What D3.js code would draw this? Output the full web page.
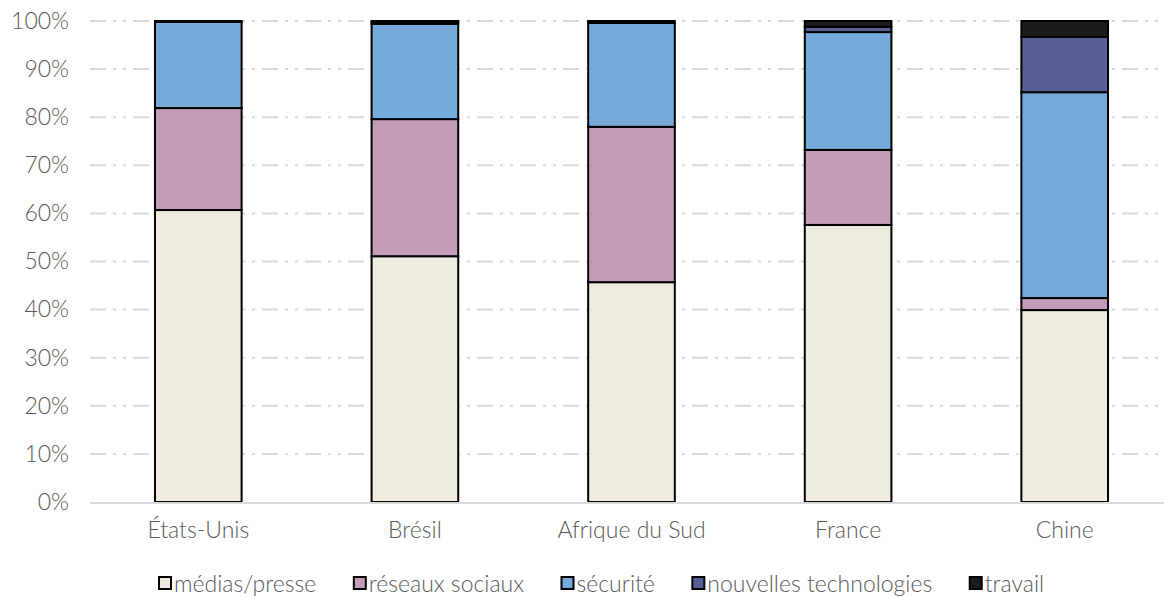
<!DOCTYPE html>
<html>
<head>
<meta charset="utf-8">
<script src="https://cdn.jsdelivr.net/npm/d3@7"></script>
<style>
  body { margin: 0; background: #fff; }
  text { font-family: Lato, "Open Sans", sans-serif; font-weight: 300; fill: #595959; }
</style>
</head>
<body>
<div id="chart"></div>
<script>
// pays
var countries = ["États-Unis", "Brésil", "Afrique du Sud", "France", "Chine"];
// séries (en %)
var seriesNames = ["médias/presse", "réseaux sociaux", "sécurité", "nouvelles technologies", "travail"];
var medias = [60.7, 51.1, 45.7, 57.6, 39.9];
var reseaux = [21.2, 28.5, 32.3, 15.6, 2.5];
var securite = [17.9, 19.8, 21.6, 24.5, 42.8];
var nouvelles = [0.0, 0.4, 0.0, 1.1, 11.5];
var travail = [0.2, 0.2, 0.4, 1.2, 3.3];
var yTicks = [0, 10, 20, 30, 40, 50, 60, 70, 80, 90, 100];

var colors = ["#EFEBE0", "#C49CB8", "#75AADA", "#575E96", "#1C1C1C"];

var width = 1164, height = 597;
var margin = { top: 21, right: -9, bottom: 95, left: 90 };
var innerW = width - margin.left - margin.right;
var innerH = height - margin.top - margin.bottom;

var data = countries.map(function (c, i) {
    return { country: c, "médias/presse": medias[i], "réseaux sociaux": reseaux[i], "sécurité": securite[i],
             "nouvelles technologies": nouvelles[i], "travail": travail[i] };
});

var stack = d3.stack().keys(seriesNames);
var stacked = stack(data);

var x = d3.scaleBand()
    .domain(countries)
    .range([0, innerW])
    .paddingInner(0.6)
    .paddingOuter(0.3);

var y = d3.scaleLinear()
    .domain([0, 100])
    .range([innerH, 0]);

var color = d3.scaleOrdinal().domain(seriesNames).range(colors);

var svg = d3.select("#chart")
    .append("svg")
    .attr("width", width)
    .attr("height", height)
    .append("g")
    .attr("transform", "translate(" + margin.left + "," + margin.top + ")");

// grille
svg.append("g")
    .selectAll("line")
    .data(yTicks.filter(function (d) { return d > 0; }))
    .enter()
    .append("line")
    .attr("x1", 0)
    .attr("x2", width - margin.left)
    .attr("y1", function (d) { return y(d); })
    .attr("y2", function (d) { return y(d); })
    .attr("stroke", "#d9d9d9")
    .attr("stroke-width", 2)
    .attr("stroke-dasharray", "16,7,3,7,3,7");

// axe Y
var yAxis = d3.axisLeft(y).tickValues(yTicks).tickSize(0).tickPadding(21)
    .tickFormat(function (d) { return d + "%"; });
svg.append("g")
    .attr("class", "y axis")
    .call(yAxis)
    .call(function (g) { g.select(".domain").remove(); })
    .selectAll("text")
    .style("font-size", "23px")
    .style("font-family", "Lato, sans-serif")
    .attr("fill", "#595959");

// barres
svg.append("g")
    .selectAll("g")
    .data(stacked)
    .enter()
    .append("g")
    .attr("fill", function (d) { return color(d.key); })
    .selectAll("rect")
    .data(function (d) { return d; })
    .enter()
    .append("rect")
    .attr("x", function (d) { return x(d.data.country); })
    .attr("y", function (d) { return y(d[1]); })
    .attr("width", x.bandwidth())
    .attr("height", function (d) { return y(d[0]) - y(d[1]); })
    .attr("stroke", "#000")
    .attr("stroke-width", 2);

// ligne de base
svg.append("line")
    .attr("x1", 0)
    .attr("x2", width - margin.left)
    .attr("y1", innerH + 1)
    .attr("y2", innerH + 1)
    .attr("stroke", "#d9d9d9")
    .attr("stroke-width", 2);

// axe X
var xAxis = d3.axisBottom(x).tickSize(0).tickPadding(20);
svg.append("g")
    .attr("class", "x axis")
    .attr("transform", "translate(0," + innerH + ")")
    .call(xAxis)
    .call(function (g) { g.select(".domain").remove(); })
    .selectAll("text")
    .style("font-size", "23px")
    .style("font-family", "Lato, sans-serif")
    .attr("fill", "#595959");

// légende
var legend = d3.select("svg").append("g").attr("transform", "translate(158,584)");
var lx = 0;
seriesNames.forEach(function (name, i) {
    var item = legend.append("g").attr("transform", "translate(" + lx + ",0)");
    item.append("rect")
        .attr("x", 1).attr("y", -7)
        .attr("width", 12).attr("height", 12)
        .attr("fill", colors[i])
        .attr("stroke", "#000")
        .attr("stroke-width", 2);
    var t = item.append("text")
        .attr("x", 16)
        .attr("y", 0)
        .attr("dy", "0.35em")
        .style("font-size", "23px")
        .text(name);
    lx += 16 + t.node().getComputedTextLength() + 36.5;
});
</script>
</body>
</html>
